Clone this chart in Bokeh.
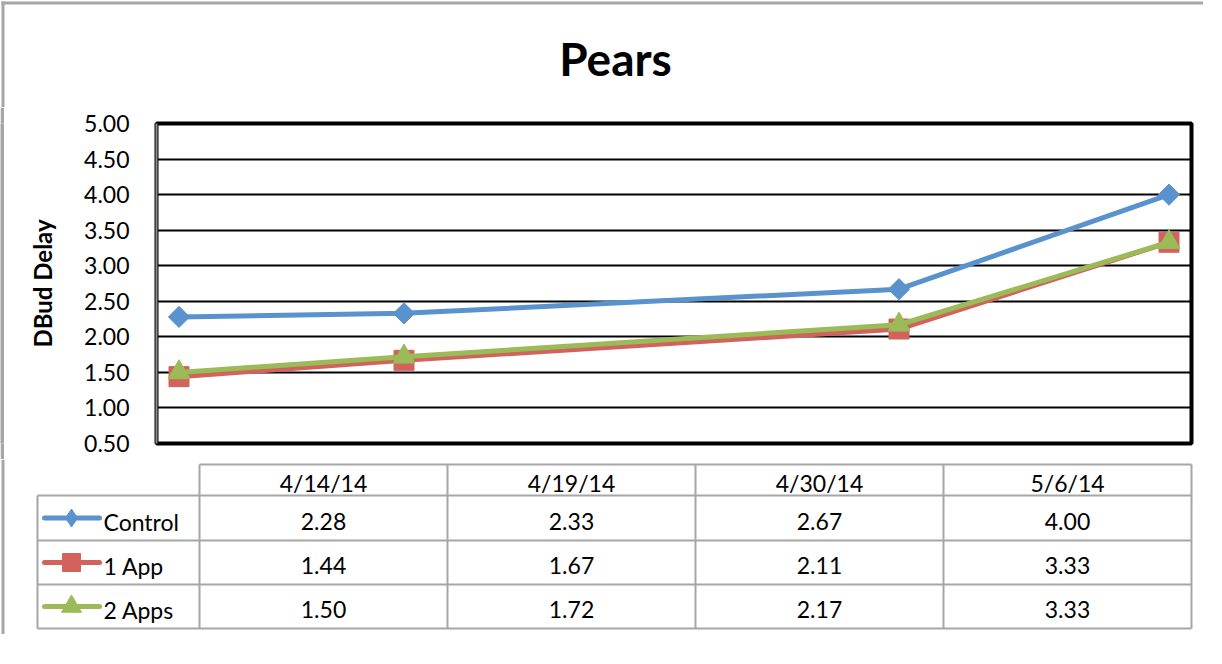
import numpy as np
import pandas as pd
from datetime import datetime
from bokeh.plotting import figure
from bokeh.layouts import column, row
from bokeh.models import Range1d, FixedTicker, NumeralTickFormatter
from bokeh.core.properties import value
from bokeh.embed import file_html
from bokeh.resources import INLINE

# ---------------- data ----------------
title_text = "Pears"
y_label = "DBud Delay"
date_labels = ["4/14/14", "4/19/14", "4/30/14", "5/6/14"]
series_names = ["Control", "1 App", "2 Apps"]
control = [2.28, 2.33, 2.67, 4.00]
one_app = [1.44, 1.67, 2.11, 3.33]
two_apps = [1.50, 1.72, 2.17, 3.33]
y_ticks = [0.5, 1.0, 1.5, 2.0, 2.5, 3.0, 3.5, 4.0, 4.5, 5.0]

dates = pd.to_datetime(date_labels, format="%m/%d/%y")
series_values = [control, one_app, two_apps]
colors = ["#5A92CE", "#D1625C", "#9BBB59"]
FONT = "Lato"
BORDER = "#a6a6a6"
W = 1203


def blank(fig):
    fig.axis.visible = False
    fig.grid.visible = False
    fig.outline_line_color = None
    fig.background_fill_color = "white"
    fig.border_fill_color = "white"


# ---------------- title strip ----------------
H0 = 107
p0 = figure(width=W, height=H0, x_range=Range1d(0, W), y_range=Range1d(H0, 0),
            title=None, output_backend="svg", toolbar_location=None, min_border=0)
blank(p0)
p0.segment(x0=[1], x1=[W], y0=[2.5], y1=[2.5], line_color=BORDER, line_width=3)
p0.segment(x0=[2.5], x1=[2.5], y0=[1], y1=[H0], line_color=BORDER, line_width=3)
p0.text(x=[615], y=[58], text=[title_text], text_font=value(FONT),
        text_font_size="46px", text_font_style="bold", text_color="black",
        text_align="center", text_baseline="alphabetic")

# ---------------- chart ----------------
H1 = 352
pL = figure(width=4, height=H1, title=None, output_backend="svg",
            toolbar_location=None, min_border=0)
pL.axis.visible = False
pL.grid.visible = False
pL.outline_line_color = None
pL.background_fill_color = BORDER
pL.border_fill_color = BORDER

p1 = figure(width=W - 4, height=H1, x_axis_type="datetime",
            x_range=Range1d(datetime(2014, 4, 13, 12), datetime(2014, 5, 6, 12)),
            y_range=Range1d(0.5, 5.0), title=None,
            output_backend="svg", toolbar_location=None,
            min_border_left=152, min_border_right=12,
            min_border_top=16, min_border_bottom=16)
p1.background_fill_color = "white"
p1.border_fill_color = "white"
p1.outline_line_color = "black"
p1.outline_line_width = 4

p1.xaxis.visible = False
p1.xgrid.visible = False
p1.ygrid.grid_line_color = "black"
p1.ygrid.grid_line_width = 2

ya = p1.yaxis[0]
ya.ticker = FixedTicker(ticks=y_ticks)
ya.formatter = NumeralTickFormatter(format="0.00")
ya.major_tick_line_color = None
ya.minor_tick_line_color = None
ya.axis_line_color = "#8c8c8c"
ya.axis_line_width = 2
ya.major_label_text_font = FONT
ya.major_label_text_font_size = "23px"
ya.major_label_text_color = "black"
ya.major_label_standoff = 21
ya.axis_label = y_label
ya.axis_label_text_font = FONT
ya.axis_label_text_font_size = "24px"
ya.axis_label_text_font_style = "bold"
ya.axis_label_text_color = "black"
ya.axis_label_standoff = 24

markers = [dict(marker="square", size=15, angle=np.pi / 4),
           dict(marker="square", size=20, angle=0.0),
           dict(marker="triangle", size=22, angle=0.0)]
for vals, c, m in zip(series_values, colors, markers):
    p1.line(dates, vals, line_color=c, line_width=5, line_join="round")
    p1.scatter(dates, vals, marker=m["marker"], size=m["size"], angle=m["angle"],
               fill_color=c, line_color=c)

# ---------------- data table ----------------
H2 = 175
p2 = figure(width=W, height=H2, x_range=Range1d(0, W), y_range=Range1d(H2, 0),
            title=None, output_backend="svg", toolbar_location=None, min_border=0)
blank(p2)
p2.segment(x0=[2.5], x1=[2.5], y0=[0], y1=[H2], line_color=BORDER, line_width=3)

leg_left, col_left, col_w = 37, 199, 248
head_top, head_bot = 5, 36
row_bots = [81, 125, 169]
ncol = len(date_labels)
col_edges = [col_left + i * col_w for i in range(ncol + 1)]
grid_c = "#a6a6a6"

# horizontal lines
p2.segment(x0=[col_left], x1=[col_edges[-1]], y0=[head_top], y1=[head_top],
           line_color=grid_c, line_width=2)
hy = [head_bot] + row_bots
p2.segment(x0=[leg_left] * len(hy), x1=[col_edges[-1]] * len(hy), y0=hy, y1=hy,
           line_color=grid_c, line_width=2)
# vertical lines
p2.segment(x0=col_edges, x1=col_edges, y0=[head_top] * len(col_edges),
           y1=[row_bots[-1]] * len(col_edges), line_color=grid_c, line_width=2)
p2.segment(x0=[leg_left], x1=[leg_left], y0=[head_bot], y1=[row_bots[-1]],
           line_color=grid_c, line_width=2)

col_centers = [col_left + col_w * (i + 0.5) for i in range(ncol)]
txt = dict(text_font=value(FONT), text_font_size="23px", text_color="black",
           text_baseline="alphabetic")
p2.text(x=col_centers, y=[head_bot - 13] * ncol, text=date_labels, text_align="center", **txt)

row_tops = [head_bot] + row_bots[:-1]
for r, (name, vals, c) in enumerate(zip(series_names, series_values, colors)):
    top, bot = row_tops[r], row_bots[r]
    mid = (top + bot) / 2
    p2.text(x=col_centers, y=[bot - 19] * ncol, text=[f"{v:.2f}" for v in vals],
            text_align="center", **txt)
    p2.segment(x0=[44], x1=[99], y0=[mid], y1=[mid], line_color=c, line_width=5,
               line_cap="round")
    lm = [dict(marker="diamond", size=18),
          dict(marker="square", size=18),
          dict(marker="triangle", size=20)][r]
    p2.scatter(x=[71], y=[mid], marker=lm["marker"], size=lm["size"],
               fill_color=c, line_color=c)
    p2.text(x=[103], y=[bot - 19], text=[name], text_align="left", **txt)

layout = column(row(p0), row(pL, p1), row(p2), spacing=0)

open("out.html", "w").write(file_html(layout, INLINE))
